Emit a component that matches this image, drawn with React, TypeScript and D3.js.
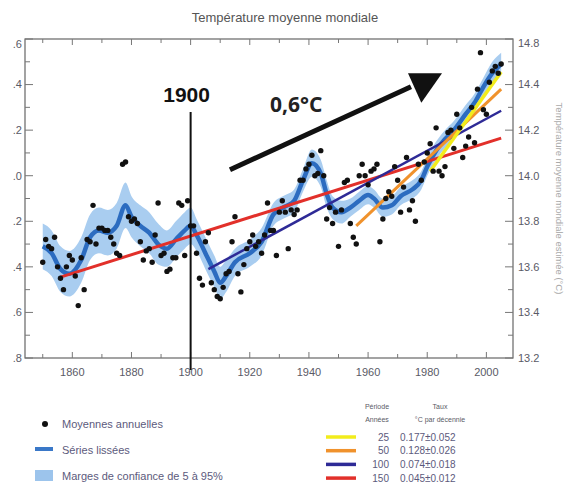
import React from "react";
import * as d3 from "d3";

const W = 569;
const H = 493;
const M = { top: 39, right: 56, bottom: 135, left: 25 };

// Annual means (anomaly, °C)
const years: number[] = d3.range(1850, 2006);
const annual: number[] = [
  -0.38, -0.28, -0.31, -0.32, -0.27, -0.4, -0.45, -0.5, -0.4, -0.35,
  -0.37, -0.44, -0.57, -0.36, -0.5, -0.28, -0.29, -0.13, -0.3, -0.23,
  -0.23, -0.24, -0.24, -0.27, -0.3, -0.34, -0.35, 0.05, 0.06, -0.18,
  -0.2, -0.19, -0.21, -0.29, -0.37, -0.33, -0.32, -0.38, -0.26, -0.12,
  -0.35, -0.34, -0.42, -0.41, -0.36, -0.36, -0.12, -0.13, -0.35, -0.11,
  -0.22, -0.22, -0.34, -0.45, -0.48, -0.29, -0.25, -0.47, -0.5, -0.53,
  -0.54, -0.49, -0.43, -0.42, -0.29, -0.18, -0.43, -0.51, -0.39, -0.32,
  -0.29, -0.26, -0.31, -0.29, -0.34, -0.26, -0.12, -0.24, -0.24, -0.35,
  -0.16, -0.11, -0.16, -0.32, -0.15, -0.17, -0.15, -0.02, -0.02, 0.03,
  0.05, 0.09, 0.0, 0.01, 0.11, 0.0, -0.19, -0.14, -0.21, -0.16,
  -0.31, -0.15, -0.03, -0.02, -0.21, -0.27, -0.3, 0.0, 0.05, -0.0,
  -0.04, 0.02, 0.03, 0.05, -0.29, -0.19, -0.1, -0.07, -0.09, 0.04,
  -0.02, -0.16, -0.05, 0.08, -0.15, -0.11, -0.2, 0.05, -0.02, 0.06,
  0.1, 0.14, 0.02, 0.21, 0.02, 0.0, 0.04, 0.19, 0.2, 0.12,
  0.27, 0.21, 0.08, 0.13, 0.17, 0.3, 0.145, 0.38, 0.54, 0.29,
  0.27, 0.41, 0.46, 0.48, 0.45, 0.49,
];

// Smoothed series and its 5-95% half width
const smoothYears: number[] = [
  1850, 1853, 1856, 1859, 1863, 1866, 1869, 1872, 1875, 1878, 1880, 1883,
  1886, 1889, 1892, 1895, 1898, 1900, 1902, 1905, 1908, 1910, 1912, 1915,
  1920, 1924, 1928, 1932, 1935, 1938, 1941, 1944, 1946, 1948, 1951, 1954,
  1957, 1960, 1962, 1965, 1968, 1971, 1975, 1978, 1980, 1983, 1986, 1989,
  1993, 1996, 1999, 2002, 2005,
];
const smoothVals: number[] = [
  -0.31, -0.34, -0.41, -0.43, -0.37, -0.27, -0.24, -0.25, -0.22, -0.13, -0.18, -0.22,
  -0.25, -0.3, -0.32, -0.28, -0.24, -0.22, -0.26, -0.34, -0.42, -0.47, -0.44, -0.38,
  -0.34, -0.29, -0.17, -0.135, -0.11, -0.02, 0.055, 0.01, -0.08, -0.14, -0.16, -0.14,
  -0.11, -0.085, -0.1, -0.14, -0.13, -0.09, -0.06, -0.02, 0.04, 0.11, 0.16, 0.2,
  0.27, 0.32, 0.39, 0.45, 0.49,
];
const smoothErr: number[] = [
  0.1, 0.1, 0.1, 0.1, 0.1, 0.1, 0.1, 0.1, 0.1, 0.1, 0.09, 0.09,
  0.09, 0.09, 0.08, 0.08, 0.08, 0.08, 0.07, 0.07, 0.07, 0.07, 0.07, 0.06,
  0.06, 0.06, 0.05, 0.05, 0.05, 0.05, 0.06, 0.06, 0.06, 0.05, 0.05, 0.04,
  0.04, 0.04, 0.04, 0.04, 0.04, 0.04, 0.04, 0.04, 0.04, 0.04, 0.04, 0.04,
  0.04, 0.04, 0.04, 0.05, 0.05,
];

// Linear trends
const trendPeriods: number[] = [25, 50, 100, 150];
const trendRates: string[] = ["0.177±0.052", "0.128±0.026", "0.074±0.018", "0.045±0.012"];
const trendColors: string[] = ["#f2ec1c", "#f0922c", "#2e2a96", "#e2302a"];
const trendStart: [number, number][] = [[1981, 0.02], [1956, -0.22], [1906, -0.41], [1856, -0.445]];
const trendEnd: [number, number][] = [[2005, 0.455], [2005, 0.38], [2005, 0.285], [2005, 0.165]];
const trendWidths: number[] = [3.5, 3, 2.5, 3];

const yTicks: number[] = [0.6, 0.4, 0.2, 0.0, -0.2, -0.4, -0.6, -0.8];
const yLabels: string[] = [".6", ".4", ".2", ".0", ".2", ".4", ".6", ".8"];
const yRightLabels: string[] = ["14.8", "14.4", "14.2", "14.0", "13.8", "13.6", "13.4", "13.2"];
const xTicks: number[] = [1860, 1880, 1900, 1920, 1940, 1960, 1980, 2000];

const FONT = "'Liberation Sans', Arial, sans-serif";
const GREY = "#5a5a66";
const LEG = "#5c5a7c";

export default function App() {
  const x = d3.scaleLinear().domain([1844, 2009]).range([M.left, W - M.right]);
  const y = d3.scaleLinear().domain([-0.8, 0.6]).range([H - M.bottom, M.top]);
  const x0 = M.left;
  const x1 = W - M.right;
  const y0 = M.top;
  const y1 = H - M.bottom;

  const band = d3
    .area<number>()
    .x((_, i) => x(smoothYears[i]))
    .y0((_, i) => y(smoothVals[i] - smoothErr[i]))
    .y1((_, i) => y(smoothVals[i] + smoothErr[i]))
    .curve(d3.curveMonotoneX);
  const smooth = d3
    .line<number>()
    .x((_, i) => x(smoothYears[i]))
    .y((d) => y(d))
    .curve(d3.curveMonotoneX);

  const minorY = d3.range(-0.8, 0.61, 0.1);
  const minorX = d3.range(1850, 2009, 10);

  // arrow in data coordinates
  const aFrom: [number, number] = [1913.3, 0.026];
  const aTo: [number, number] = [1974.5, 0.39];
  const head: [number, number][] = [[1973.5, 0.45], [1985, 0.45], [1978, 0.32]];

  return (
    <svg
      width={W}
      height={H}
      style={{ position: "absolute", left: 0, top: 0, background: "#fff" }}
      fontFamily={FONT}
    >
      <text x={285} y={22} textAnchor="middle" fontSize={13} fill="#555">
        Température moyenne mondiale
      </text>

      {/* confidence band + smoothed series */}
      <path d={band(smoothVals) || ""} fill="#a9cdf0" />
      <path d={smooth(smoothVals) || ""} fill="none" stroke="#2c6cc0" strokeWidth={4.5} />

      {/* trends */}
      {trendPeriods
        .map((_, i) => i)
        .reverse()
        .map((i) => (
          <line
            key={i}
            x1={x(trendStart[i][0])}
            y1={y(trendStart[i][1])}
            x2={x(trendEnd[i][0])}
            y2={y(trendEnd[i][1])}
            stroke={trendColors[i]}
            strokeWidth={trendWidths[i]}
          />
        ))}

      {/* annual means */}
      {annual.map((v, i) => (
        <circle key={i} cx={x(years[i])} cy={y(v)} r={2.7} fill="#111" />
      ))}

      {/* frame and ticks */}
      <rect x={x0} y={y0} width={x1 - x0} height={y1 - y0} fill="none" stroke="#666" strokeWidth={1.2} />
      {minorY.map((v, i) => {
        const major = i % 2 === 0;
        const len = major ? 8 : 5;
        return (
          <g key={i} stroke="#777" strokeWidth={1}>
            <line x1={x0} x2={x0 + len} y1={y(v)} y2={y(v)} />
            <line x1={x1} x2={x1 - len} y1={y(v)} y2={y(v)} />
          </g>
        );
      })}
      {minorX.map((v) => {
        const len = v % 20 === 0 ? 6 : 4;
        return (
          <g key={v} stroke="#777" strokeWidth={1}>
            <line x1={x(v)} x2={x(v)} y1={y1} y2={y1 - len} />
            <line x1={x(v)} x2={x(v)} y1={y0} y2={y0 + len} />
          </g>
        );
      })}
      {yTicks.map((v, i) => (
        <g key={v} fontSize={11} fill={GREY}>
          <text x={22} y={Math.max(y(v), 44)} dy="0.35em" textAnchor="end">
            {yLabels[i]}
          </text>
          <text x={518} y={Math.max(y(v), 43)} dy="0.35em">
            {yRightLabels[i]}
          </text>
        </g>
      ))}
      {xTicks.map((v) => (
        <text key={v} x={x(v)} y={y1 + 18} textAnchor="middle" fontSize={11} fill={GREY}>
          {v}
        </text>
      ))}
      <text
        transform={`translate(556,${(y0 + y1) / 2}) rotate(90)`}
        textAnchor="middle"
        fontSize={9.5}
        fill="#aaa"
      >
        Température moyenne mondiale estimée (°C)
      </text>

      {/* 1900 marker */}
      <line x1={x(1900)} x2={x(1900)} y1={112} y2={y1 + 12} stroke="#111" strokeWidth={2} />
      <text x={x(1900) - 4} y={102} textAnchor="middle" fontSize={21} fontWeight="bold" fill="#111">
        1900
      </text>

      {/* 0,6°C arrow */}
      <line x1={x(aFrom[0])} y1={y(aFrom[1])} x2={x(aTo[0])} y2={y(aTo[1])} stroke="#111" strokeWidth={5} />
      <polygon points={head.map((p) => `${x(p[0])},${y(p[1])}`).join(" ")} fill="#111" />
      <text x={270} y={112} fontSize={21} fontWeight="bold" fill="#222" fontFamily="'Open Sans', sans-serif">
        0,6°C
      </text>

      {/* legend left */}
      <circle cx={45} cy={424} r={3} fill="#111" />
      <text x={62} y={428} fontSize={11} fill={LEG}>Moyennes annuelles</text>
      <line x1={35} x2={53} y1={449} y2={449} stroke="#3a78c8" strokeWidth={4} />
      <text x={62} y={454} fontSize={11} fill={LEG}>Séries lissées</text>
      <rect x={35} y={470} width={18} height={11} fill="#9cc4ec" />
      <text x={62} y={480} fontSize={11} fill={LEG}>Marges de confiance de 5 à 95%</text>

      {/* legend right */}
      <g fontSize={7} fill={GREY} textAnchor="middle">
        <text x={377} y={409}>Période</text>
        <text x={377} y={422}>Années</text>
        <text x={440} y={409}>Taux</text>
        <text x={440} y={422}>°C par décennie</text>
      </g>
      {trendPeriods.map((p, i) => {
        const ry = 437 + i * 13.7;
        return (
          <g key={p}>
            <line x1={326} x2={356} y1={ry} y2={ry} stroke={trendColors[i]} strokeWidth={3.5} />
            <text x={389} y={ry + 3.5} textAnchor="end" fontSize={10} fill={LEG}>{p}</text>
            <text x={400} y={ry + 3.5} fontSize={10} fill={LEG}>{trendRates[i]}</text>
          </g>
        );
      })}
    </svg>
  );
}
